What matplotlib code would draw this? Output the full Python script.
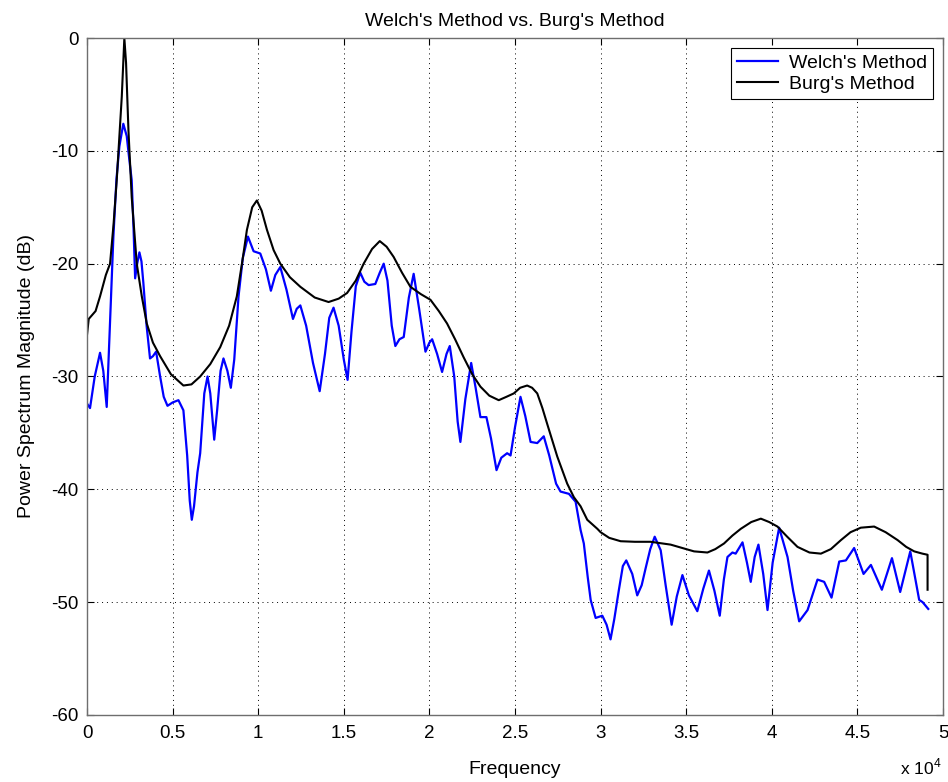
import numpy as np
import matplotlib.pyplot as plt

plt.rcParams['font.family'] = ['Liberation Sans', 'DejaVu Sans']
plt.rcParams['mathtext.fontset'] = 'custom'
plt.rcParams['mathtext.rm'] = 'Liberation Sans'
plt.rcParams['axes.unicode_minus'] = False

# Welch PSD estimate (frequency in Hz, magnitude in dB)
welch_f = [0, 175, 450, 760, 950, 1150, 1350, 1540, 1720, 1890, 2120, 2320, 2450,
           2610, 2720, 2810, 2930, 3060, 3180, 3290, 3480, 3680, 3850, 4035, 4270,
           4480, 4700, 5000, 5340, 5630, 5850, 6000, 6120, 6250, 6450, 6610, 6850,
           7040, 7200, 7430, 7600, 7800, 7970, 8200, 8400, 8600, 8850, 9100, 9400,
           9730, 9930, 10120, 10450, 10740, 11000, 11290, 11650, 12030, 12250, 12460,
           12800, 13200, 13590, 13900, 14150, 14400, 14700, 15000, 15220, 15450,
           15700, 15960, 16200, 16450, 16840, 17100, 17330, 17550, 17800, 18010,
           18250, 18500, 18800, 19080, 19400, 19770, 20000, 20160, 20450, 20740,
           21000, 21190, 21450, 21650, 21810, 22100, 22440, 22700, 22980, 23330,
           23600, 23920, 24200, 24540, 24740, 25000, 25320, 25600, 25910, 26300,
           26680, 27000, 27400, 27660, 28150, 28540, 28830, 29020, 29250, 29420,
           29710, 30100, 30350, 30580, 30800, 31070, 31300, 31500, 31850, 32140,
           32400, 32630, 32900, 33160, 33510, 33800, 34150, 34450, 34780, 35160,
           35650, 36000, 36330, 36650, 36960, 37200, 37410, 37700, 37890, 38290,
           38550, 38770, 39000, 39220, 39500, 39750, 40050, 40430, 40920, 41250,
           41600, 42090, 42670, 43060, 43490, 43940, 44330, 44810, 45360, 45790,
           46430, 47020, 47500, 48090, 48610, 48810, 49140]
welch_db = [-32.4, -32.8, -30.0, -27.9, -29.5, -32.7, -25.0, -17.6, -12.5, -9.6, -7.6,
            -8.7, -10.5, -12.6, -17.0, -21.3, -20.0, -19.0, -19.8, -21.7, -25.5, -28.4,
            -28.2, -27.8, -30.0, -31.8, -32.6, -32.3, -32.1, -33.0, -37.0, -41.0, -42.7,
            -41.5, -38.5, -36.8, -31.5, -30.0, -31.5, -35.6, -33.0, -29.5, -28.4, -29.5,
            -31.0, -28.5, -22.9, -19.5, -17.6, -18.9, -19.0, -19.1, -20.5, -22.4, -21.0,
            -20.3, -22.3, -24.9, -24.0, -23.7, -25.5, -28.8, -31.3, -28.0, -24.8, -23.9,
            -25.5, -28.5, -30.3, -26.0, -22.0, -20.8, -21.6, -21.9, -21.8, -20.8, -20.0,
            -21.5, -25.5, -27.3, -26.7, -26.5, -23.0, -20.9, -24.0, -27.8, -27.0, -26.7,
            -28.0, -29.6, -28.0, -27.3, -30.0, -34.0, -35.8, -32.0, -28.8, -31.0, -33.6,
            -33.6, -35.5, -38.3, -37.2, -36.8, -37.0, -34.5, -31.8, -33.5, -35.8, -35.9,
            -35.3, -37.0, -39.5, -40.2, -40.4, -41.1, -43.6, -44.8, -47.8, -49.8, -51.4,
            -51.2, -52.0, -53.3, -51.5, -48.9, -46.8, -46.3, -47.5, -49.4, -48.5, -47.0,
            -45.3, -44.2, -45.4, -48.5, -52.0, -49.5, -47.6, -49.4, -50.8, -48.8, -47.2,
            -49.0, -51.2, -48.0, -46.0, -45.6, -45.7, -44.7, -46.5, -48.2, -46.0, -44.9,
            -47.5, -50.7, -46.5, -43.4, -46.0, -49.0, -51.7, -50.7, -48.0, -48.2, -49.6,
            -46.4, -46.3, -45.2, -47.5, -46.7, -48.9, -46.1, -49.1, -45.5, -49.8, -50.0,
            -50.6]

# Burg AR spectrum estimate
burg_f = [0, 100, 500, 760, 1100, 1345, 1550, 1735, 2030, 2180, 2280, 2420, 2610,
          2905, 3200, 3490, 3850, 4270, 4900, 5630, 6100, 6610, 7200, 7780, 8300,
          8750, 9100, 9340, 9650, 9920, 10200, 10510, 10900, 11290, 11850, 12460,
          13300, 14110, 14700, 15190, 15700, 16160, 16650, 17100, 17500, 17910,
          18400, 18890, 19500, 20060, 20550, 21030, 21500, 22000, 22500, 22980,
          23500, 24050, 24500, 24930, 25300, 25710, 26000, 26300, 26600, 26880,
          27470, 28050, 28440, 28830, 29220, 29810, 30000, 30500, 31170, 32000,
          32920, 34090, 35000, 35460, 36240, 36700, 37210, 37700, 38190, 38800,
          39360, 39850, 40330, 40900, 41500, 42200, 42870, 43450, 44040, 44600,
          45200, 45980, 46650, 47350, 47850, 48320, 48800, 49100, 49100]
burg_db = [-26.3, -24.9, -24.2, -22.9, -21.0, -20.0, -16.5, -12.6, -5.2, 0.0, -2.2,
           -8.2, -14.1, -20.0, -22.9, -25.3, -27.0, -28.2, -29.8, -30.8, -30.7, -30.0,
           -28.9, -27.4, -25.5, -22.9, -19.5, -17.0, -15.0, -14.4, -15.3, -17.0, -18.8,
           -20.0, -21.2, -22.05, -23.0, -23.4, -23.1, -22.6, -21.5, -20.0, -18.7, -18.0,
           -18.5, -19.4, -20.8, -22.05, -22.7, -23.2, -24.2, -25.3, -26.7, -28.3, -29.8,
           -30.9, -31.7, -32.1, -31.8, -31.5, -31.0, -30.8, -31.0, -31.5, -32.8, -34.2,
           -37.1, -39.5, -40.7, -41.5, -42.7, -43.5, -43.8, -44.3, -44.6, -44.65,
           -44.65, -44.9, -45.3, -45.5, -45.6, -45.3, -44.8, -44.1, -43.5, -42.9,
           -42.6, -42.9, -43.3, -44.2, -45.1, -45.6, -45.7, -45.3, -44.5, -43.8,
           -43.4, -43.3, -43.8, -44.5, -45.1, -45.5, -45.7, -45.8, -48.9]

x_ticks = np.arange(0, 50001, 5000)
y_ticks = np.arange(-60, 1, 10)

fig = plt.figure(figsize=(9.48, 7.82), dpi=100)
ax = fig.add_axes([0.0918, 0.0857, 0.9029, 0.8657])

ax.plot(welch_f, welch_db, color='#0000ff', linewidth=1.6, label="Welch's Method")
ax.plot(burg_f, burg_db, color='black', linewidth=1.5, label="Burg's Method")

ax.set_xlim(0, 50000)
ax.set_ylim(-60, 0)
ax.set_xticks(x_ticks)
ax.set_xticklabels(['%g' % (v / 1e4) for v in x_ticks])
ax.set_yticks(y_ticks)

ax.grid(True, color='black', linestyle=(0, (1, 4)), linewidth=0.7)
ax.tick_params(direction='in', length=5, width=0.8, top=True, right=True,
               labelsize=13.5, colors='black')
ax.tick_params(axis='x', pad=7)
ax.tick_params(axis='y', pad=6)
for s in ax.spines.values():
    s.set_color('#6e6e6e')
    s.set_linewidth(1.0)

ax.set_title("Welch's Method vs. Burg's Method", fontsize=14, pad=9)
ax.set_xlabel('Frequency', fontsize=14, labelpad=14)
ax.set_ylabel('Power Spectrum Magnitude (dB)', fontsize=14, labelpad=12)
# exponent of the x axis scale, bottom right corner
fig.text(0.993, 0.019, r'x 10$^{\mathrm{4}}$', fontsize=12.5, va='center', ha='right')

leg = ax.legend(loc='upper right', bbox_to_anchor=(0.9887, 0.9848), borderaxespad=0,
                fontsize=14, fancybox=False, framealpha=1, edgecolor='black',
                handlelength=2.1, handletextpad=0.6, labelspacing=0.2,
                borderpad=0.3)
leg.get_frame().set_linewidth(0.8)

plt.savefig('out.png', dpi=100)
